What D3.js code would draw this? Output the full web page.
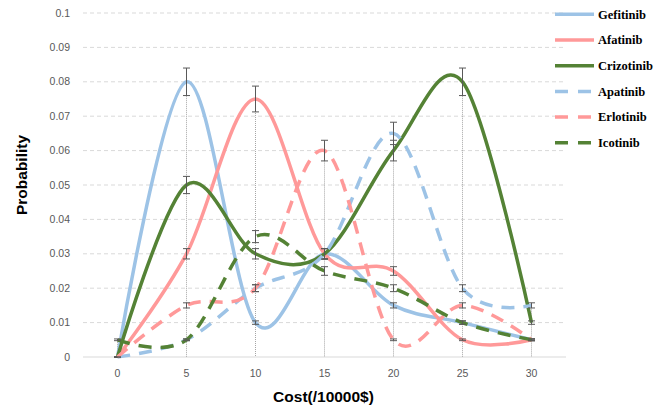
<!DOCTYPE html>
<html>
<head>
<meta charset="utf-8">
<script src="https://cdn.jsdelivr.net/npm/d3@7"></script>
<style>
  body { margin: 0; background: #fff; }
  svg { display: block; }
</style>
</head>
<body>
<svg id="chart" width="666" height="409"></svg>
<script>
// cost categories (x10000$)
var costs = [0, 5, 10, 15, 20, 25, 30];

var gefitinib  = [0,     0.08,  0.01,  0.03,  0.015, 0.01,  0.005];
var afatinib   = [0,     0.03,  0.075, 0.03,  0.025, 0.005, 0.005];
var crizotinib = [0,     0.05,  0.03,  0.03,  0.06,  0.08,  0.01];
var apatinib   = [0,     0.005, 0.02,  0.03,  0.065, 0.02,  0.015];
var erlotinib  = [0,     0.015, 0.02,  0.06,  0.005, 0.015, 0.005];
var icotinib   = [0.005, 0.005, 0.035, 0.025, 0.02,  0.01,  0.005];

var yTicks = [0, 0.01, 0.02, 0.03, 0.04, 0.05, 0.06, 0.07, 0.08, 0.09, 0.1];

(function () {
  'use strict';

  var BLUE = '#9dc3e6', PINK = '#ff9999', GREEN = '#548235';

  var series = [
    {name: 'Gefitinib',  values: gefitinib,  color: BLUE,  dashed: false},
    {name: 'Afatinib',   values: afatinib,   color: PINK,  dashed: false},
    {name: 'Crizotinib', values: crizotinib, color: GREEN, dashed: false},
    {name: 'Apatinib',   values: apatinib,   color: BLUE,  dashed: true},
    {name: 'Erlotinib',  values: erlotinib,  color: PINK,  dashed: true},
    {name: 'Icotinib',   values: icotinib,   color: GREEN, dashed: true}
  ];

  var left = 83, right = 566, top = 13, bottom = 357;

  var svg = d3.select('#chart');

  var x = d3.scaleBand().domain(costs).range([left, right]).padding(0);
  var xc = function (c) { return x(c) + x.bandwidth() / 2; };
  var y = d3.scaleLinear().domain([0, 0.1]).range([bottom, top]);

  // horizontal grid
  svg.append('g').selectAll('line')
    .data(yTicks.slice(1))
    .enter().append('line')
    .attr('x1', left).attr('x2', right)
    .attr('y1', function (d) { return y(d); })
    .attr('y2', function (d) { return y(d); })
    .attr('stroke', '#d9d9d9')
    .attr('stroke-dasharray', '4,3');

  // x axis line
  svg.append('line')
    .attr('x1', left).attr('x2', right)
    .attr('y1', bottom).attr('y2', bottom)
    .attr('stroke', '#d9d9d9');

  // drop lines from the highest point of each category
  svg.append('g').selectAll('line')
    .data(costs)
    .enter().append('line')
    .attr('x1', xc).attr('x2', xc)
    .attr('y1', function (c, i) {
      return y(d3.max(series, function (s) { return s.values[i]; }));
    })
    .attr('y2', bottom)
    .attr('stroke', '#a6a6a6')
    .attr('stroke-dasharray', '1,1');

  // y tick labels
  svg.append('g').selectAll('text')
    .data(yTicks)
    .enter().append('text')
    .attr('x', 70)
    .attr('y', function (d) { return y(d); })
    .attr('dy', '0.35em')
    .attr('text-anchor', 'end')
    .attr('font-family', 'Liberation Sans, Arial, sans-serif')
    .attr('font-size', 10.5)
    .attr('fill', '#595959')
    .text(function (d) { return d === 0 ? '0' : String(+d.toFixed(2)); });

  // x tick labels
  svg.append('g').selectAll('text')
    .data(costs)
    .enter().append('text')
    .attr('x', xc)
    .attr('y', 377)
    .attr('text-anchor', 'middle')
    .attr('font-family', 'Liberation Sans, Arial, sans-serif')
    .attr('font-size', 10.5)
    .attr('fill', '#595959')
    .text(function (d) { return d; });

  // axis titles
  svg.append('text')
    .attr('x', (left + right) / 2 - 1)
    .attr('y', 402)
    .attr('text-anchor', 'middle')
    .attr('font-family', 'Liberation Sans, Arial, sans-serif')
    .attr('font-weight', 'bold')
    .attr('font-size', 15.5)
    .text('Cost(/10000$)');

  svg.append('text')
    .attr('transform', 'translate(27,175) rotate(-90)')
    .attr('text-anchor', 'middle')
    .attr('font-family', 'Liberation Sans, Arial, sans-serif')
    .attr('font-weight', 'bold')
    .attr('font-size', 15.5)
    .text('Probability');

  var line = d3.line()
    .x(function (d, i) { return xc(costs[i]); })
    .y(function (d) { return y(d); })
    .curve(d3.curveCardinal.tension(0));

  series.forEach(function (s) {
    svg.append('path')
      .datum(s.values)
      .attr('d', line)
      .attr('fill', 'none')
      .attr('stroke', s.color)
      .attr('stroke-width', 3.5)
      .attr('stroke-dasharray', s.dashed ? '13,9' : null);

    // 5% error bars
    var eb = svg.append('g').attr('stroke', '#595959').attr('stroke-width', 1);
    s.values.forEach(function (v, i) {
      var cx = xc(costs[i]), hi = y(v * 1.05), lo = y(v * 0.95);
      eb.append('line').attr('x1', cx).attr('x2', cx).attr('y1', hi).attr('y2', lo);
      eb.append('line').attr('x1', cx - 3.5).attr('x2', cx + 3.5).attr('y1', hi).attr('y2', hi);
      eb.append('line').attr('x1', cx - 3.5).attr('x2', cx + 3.5).attr('y1', lo).attr('y2', lo);
    });
  });

  // legend
  var legend = svg.append('g').selectAll('g')
    .data(series)
    .enter().append('g')
    .attr('transform', function (d, i) { return 'translate(555,' + (14.3 + i * 25.7) + ')'; });

  legend.append('line')
    .attr('x1', 0).attr('x2', 39)
    .attr('stroke', function (d) { return d.color; })
    .attr('stroke-width', 3.5)
    .attr('stroke-dasharray', function (d) { return d.dashed ? '13,10' : null; });

  legend.append('text')
    .attr('x', 43)
    .attr('dy', '0.35em')
    .attr('font-family', 'Liberation Serif, Times New Roman, serif')
    .attr('font-weight', 'bold')
    .attr('font-size', 12.5)
    .attr('fill', '#000')
    .text(function (d) { return d.name; });
})();
</script>
</body>
</html>
